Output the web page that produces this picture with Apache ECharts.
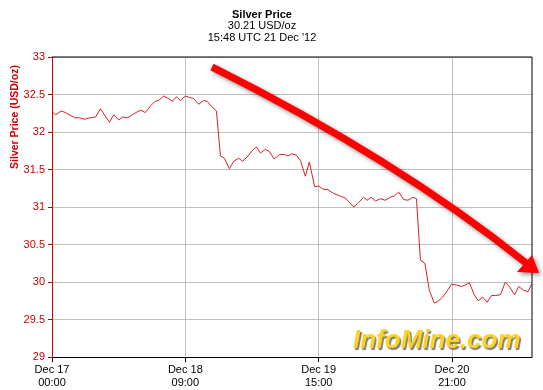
<!DOCTYPE html>
<html><head><meta charset="utf-8">
<script src="https://cdn.jsdelivr.net/npm/echarts@6/dist/echarts.min.js"></script>
<style>html,body{margin:0;padding:0;background:#fff}#c{width:543px;height:390px}</style>
</head><body><div id="c"></div>
<script>
const titleLines = ['Silver Price', '30.21 USD/oz', "15:48 UTC 21 Dec '12"];
const yAxisTitle = 'Silver Price (USD/oz)';
const watermark = 'InfoMine.com';
const xTickLabels = ['Dec 17\n00:00', 'Dec 18\n09:00', 'Dec 19\n15:00', 'Dec 20\n21:00'];
const xTickStep = 30;
const xMax = 108;
const yMin = 29, yMax = 33, yStep = 0.5;

const hours = [0,0.8,2.1,3.0,5.1,6.2,7.3,8.6,9.8,10.9,
  11.8,12.9,13.9,15.0,15.9,17.0,18.1,19.2,20.0,21.0,
  22.2,23.2,24.0,25.1,26.1,27.1,28.0,28.9,30.0,30.9,
  31.8,33.0,34.1,34.9,35.9,37.0,37.9,38.8,39.9,40.9,
  42.0,42.9,44.1,45.0,46.0,46.9,48.0,48.9,50.0,51.2,
  52.3,53.1,54.0,55.0,55.9,57.0,57.9,59.1,60.0,60.9,
  62.1,63.4,64.7,66.0,67.9,69.0,70.1,70.9,71.8,72.8,
  73.9,75.0,76.1,77.1,78.0,79.1,80.1,81.2,82.0,82.9,
  83.9,84.9,86.0,86.8,87.9,88.9,89.9,91.0,92.1,93.0,
  93.9,95.0,95.9,96.9,97.9,98.9,99.8,100.9,102.0,102.9,
  104.1,105.0,106.1,107.1,107.9];
const prices = [32.27,32.23,32.28,32.26,32.19,32.19,32.17,32.19,32.20,32.31,
  32.23,32.13,32.23,32.16,32.20,32.19,32.23,32.27,32.29,32.26,
  32.35,32.41,32.42,32.48,32.45,32.41,32.47,32.42,32.48,32.46,
  32.45,32.37,32.42,32.41,32.34,32.28,31.68,31.65,31.51,31.61,
  31.65,31.61,31.68,31.75,31.80,31.72,31.77,31.74,31.64,31.70,
  31.70,31.68,31.71,31.69,31.62,31.41,31.60,31.27,31.28,31.24,
  31.23,31.18,31.15,31.12,31.00,31.06,31.13,31.09,31.13,31.08,
  31.11,31.09,31.13,31.15,31.20,31.10,31.09,31.13,31.11,30.29,
  30.25,29.89,29.72,29.74,29.80,29.88,29.97,29.96,29.94,29.96,
  29.99,29.83,29.75,29.80,29.73,29.82,29.82,29.83,30.00,29.94,
  29.83,29.94,29.89,29.87,29.97];

const G = {left: 52, top: 57, right: 11, bottom: 33};
const W = 543, H = 390;
const R = W - G.right, B = H - G.bottom;
const FONT = '"Liberation Sans", Arial, sans-serif';
const red = '#CC0000';

const chart = echarts.init(document.getElementById('c'), null, {renderer: 'canvas'});
const tickVals = xTickLabels.map((_, i) => i * xTickStep);

chart.setOption({
  animation: false,
  backgroundColor: '#fff',
  grid: {left: G.left, top: G.top, right: G.right, bottom: G.bottom, containLabel: false},
  xAxis: {
    type: 'value', min: 0, max: xMax, interval: xTickStep,
    axisLine: {show: true, lineStyle: {color: '#000', width: 1}},
    axisTick: {show: true, length: 5, lineStyle: {color: '#000'}, customValues: tickVals},
    axisLabel: {
      color: '#000', fontSize: 11, fontFamily: FONT, margin: 6, lineHeight: 13,
      customValues: tickVals,
      formatter: v => xTickLabels[Math.round(v / xTickStep)] || ''
    },
    splitLine: {show: true, lineStyle: {color: '#C0C0C0', width: 1}}
  },
  yAxis: {
    type: 'value', min: yMin, max: yMax, interval: yStep,
    axisLine: {show: true, lineStyle: {color: red, width: 1}},
    axisTick: {show: true, length: 4, lineStyle: {color: red}},
    axisLabel: {color: red, fontSize: 11, fontFamily: FONT, margin: 7},
    splitLine: {show: true, lineStyle: {color: '#C0C0C0', width: 1}}
  },
  series: [{
    type: 'line',
    data: hours.map((h, i) => [h, prices[i]]),
    showSymbol: false, symbol: 'none',
    lineStyle: {color: '#D42128', width: 1},
    z: 3
  }],
  graphic: [
    ...titleLines.map((t, i) => ({
      type: 'text', x: 262, y: 14.5 + i * 11.7, z: 10,
      style: {text: t, textAlign: 'center', textVerticalAlign: 'middle',
        font: (i === 0 ? 'bold ' : '') + '11px ' + FONT, fill: '#000'}
    })),
    {
      type: 'text', x: 15, y: 117, rotation: Math.PI / 2, z: 10,
      style: {text: yAxisTitle, textAlign: 'center', textVerticalAlign: 'middle',
        font: 'bold 10.5px ' + FONT, fill: red}
    },
    {
      type: 'polyline', z: 20,
      shape: {points: [[G.left, G.top], [R, G.top], [R, B]]},
      style: {stroke: '#000', lineWidth: 1, fill: null}
    },
    {
      type: 'text', x: 353, y: 341, z: 30,
      style: {text: watermark, textAlign: 'left', textVerticalAlign: 'middle',
        font: 'italic bold 26px ' + FONT, fill: '#FFD21F',
        textShadowColor: 'rgba(90,90,90,0.8)', textShadowOffsetX: 1.5, textShadowOffsetY: 1.5, textShadowBlur: 1}
    },
    {
      type: 'bezierCurve', z: 40,
      shape: {x1: 212, y1: 67, cpx1: 396, cpy1: 159, x2: 526, y2: 263},
      style: {stroke: '#FF0000', lineWidth: 7, fill: null, lineCap: 'butt',
        shadowColor: 'rgba(0,0,0,0.45)', shadowBlur: 4, shadowOffsetX: 2, shadowOffsetY: 2}
    },
    {
      type: 'polygon', z: 41,
      shape: {points: [[539, 273], [517, 272], [532, 255]]},
      style: {fill: '#FF0000',
        shadowColor: 'rgba(0,0,0,0.45)', shadowBlur: 4, shadowOffsetX: 2, shadowOffsetY: 2}
    }
  ]
});
</script></body></html>
